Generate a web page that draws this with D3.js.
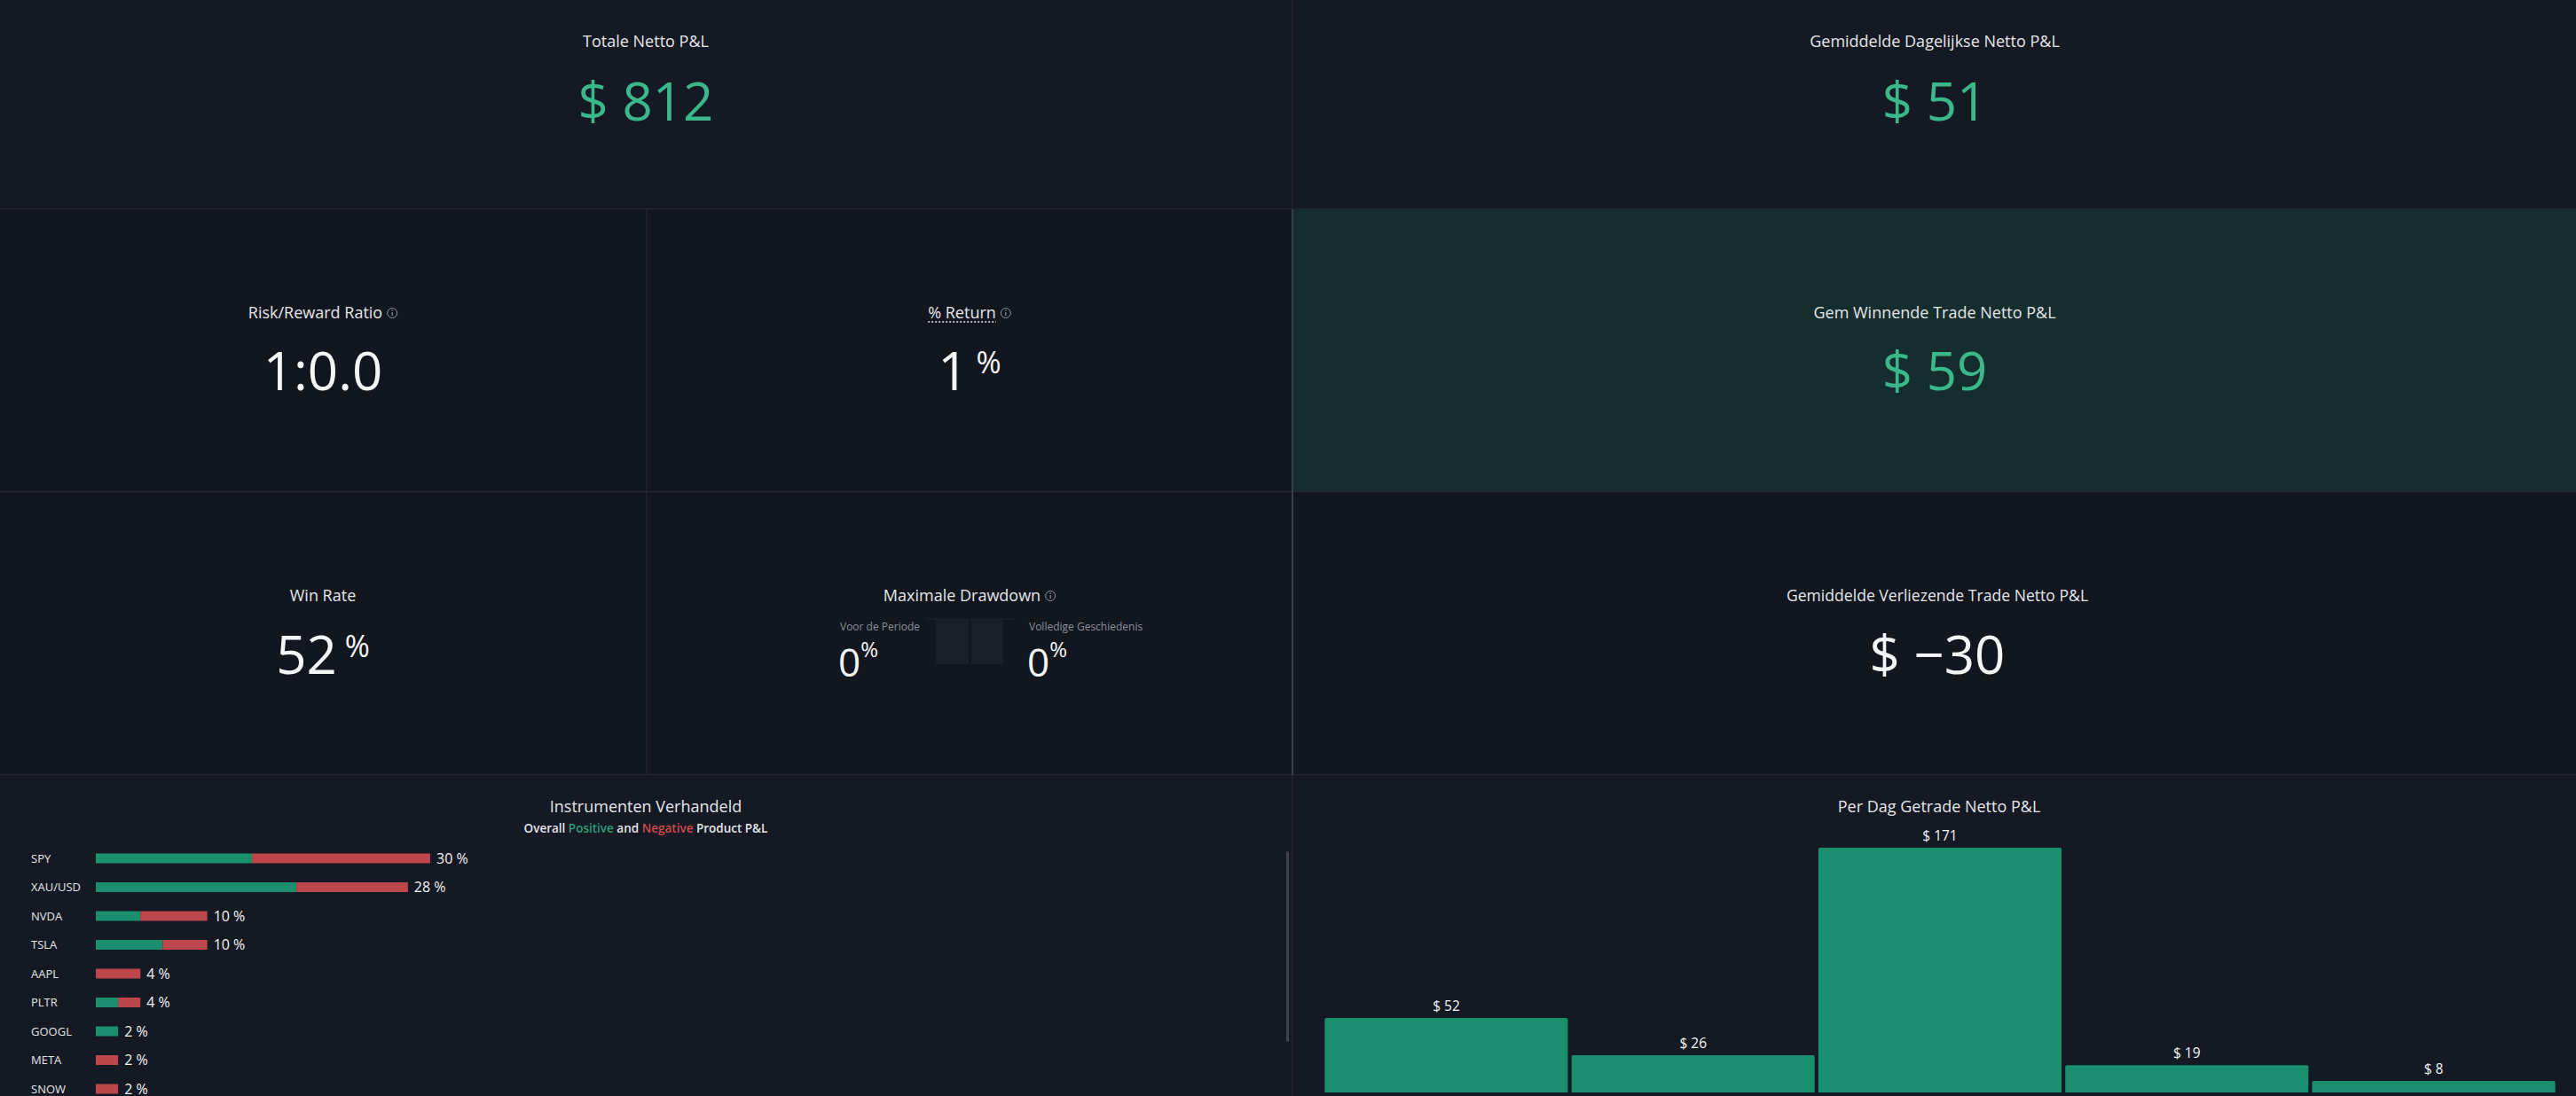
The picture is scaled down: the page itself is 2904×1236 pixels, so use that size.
<!DOCTYPE html>
<html>
<head>
<meta charset="utf-8">
<script src="https://cdn.jsdelivr.net/npm/d3@7"></script>
<style>
  html, body { margin: 0; padding: 0; background: #141822; }
  svg { display: block; font-family: "Open Sans", "Noto Sans", sans-serif; }
</style>
</head>
<body>
<svg id="chart" width="2904" height="1236"></svg>
<script>
// ---------------- data ----------------
const kpiTitles = ["Totale Netto P&L", "Gemiddelde Dagelijkse Netto P&L", "Risk/Reward Ratio", "% Return",
  "Gem Winnende Trade Netto P&L", "Win Rate", "Maximale Drawdown", "Gemiddelde Verliezende Trade Netto P&L"];
const kpiValues = ["$ 812", "$ 51", "1:0.0", "1", "$ 59", "52", "0", "$ \u221230"];
const drawdownLabels = ["Voor de Periode", "Volledige Geschiedenis"];
const drawdownValues = [0, 0];

const instruments = ["SPY", "XAU/USD", "NVDA", "TSLA", "AAPL", "PLTR", "GOOGL", "META", "SNOW"];
const positivePct = [14, 18, 4, 6, 0, 2, 2, 0, 0];
const negativePct = [16, 10, 6, 4, 4, 2, 0, 2, 2];

const dayIndex = [1, 2, 3, 4, 5];
const dayPnl = [52, 26, 171, 19, 8];

// ---------------- style ----------------
const C = {
  bgTop: "#151923", bgMid: "#12161f", bgGreen: "#152d2c", border: "#232630", divider: "#3a3e49",
  title: "#e4e6ea", value: "#f4f5f7", green: "#3bb88b", barGreen: "#1a8f6e", barRed: "#bb464b",
  muted: "#8b909a"
};

const svg = d3.select("#chart");
const W = 2904, H = 1236;

// panels
const panels = [
  {x: 0, y: 0, w: 1457, h: 236, fill: C.bgTop},
  {x: 1457, y: 0, w: 1447, h: 236, fill: C.bgTop},
  {x: 0, y: 236, w: 729, h: 319, fill: C.bgMid},
  {x: 729, y: 236, w: 728, h: 319, fill: C.bgMid},
  {x: 1457, y: 236, w: 1447, h: 319, fill: C.bgGreen},
  {x: 0, y: 555, w: 729, h: 319, fill: C.bgMid},
  {x: 729, y: 555, w: 728, h: 319, fill: C.bgMid},
  {x: 1457, y: 555, w: 1447, h: 319, fill: C.bgMid},
  {x: 0, y: 874, w: 1457, h: 362, fill: C.bgTop},
  {x: 1457, y: 874, w: 1447, h: 362, fill: C.bgTop}
];
svg.selectAll("rect.panel").data(panels).join("rect").attr("class", "panel")
  .attr("x", d => d.x).attr("y", d => d.y).attr("width", d => d.w).attr("height", d => d.h)
  .attr("fill", d => d.fill);

// borders
const lines = [
  [0, 235.5, W, 235.5, C.border, 1.5],
  [0, 554.5, W, 554.5, C.border, 1.5],
  [0, 873.5, W, 873.5, C.border, 1.5],
  [1457, 0, 1457, 236, C.border, 1.5],
  [729, 236, 729, 874, C.border, 1.5],
  [1457, 236, 1457, 874, C.divider, 2],
  [1457, 874, 1457, H, C.border, 1.5]
];
svg.selectAll("line.border").data(lines).join("line").attr("class", "border")
  .attr("x1", d => d[0]).attr("y1", d => d[1]).attr("x2", d => d[2]).attr("y2", d => d[3])
  .attr("stroke", d => d[4]).attr("stroke-width", d => d[5]);

function infoIcon(x, y) {
  const g = svg.append("g").attr("transform", `translate(${x},${y})`);
  g.append("circle").attr("r", 5.5).attr("fill", "none").attr("stroke", C.muted).attr("stroke-width", 1);
  g.append("line").attr("x1", 0).attr("x2", 0).attr("y1", -1).attr("y2", 3).attr("stroke", C.muted).attr("stroke-width", 1.2);
  g.append("circle").attr("cy", -3).attr("r", 0.8).attr("fill", C.muted);
}

function title(text, cx, y, opts = {}) {
  const t = svg.append("text").attr("x", cx).attr("y", y).attr("text-anchor", "middle")
    .attr("fill", C.title).attr("font-size", 18).text(text);
  if (opts.icon || opts.underline) {
    const w = t.node().getComputedTextLength();
    const total = w + (opts.icon ? 17 : 0);
    const start = cx - total / 2;
    t.attr("text-anchor", "start").attr("x", start);
    if (opts.underline) {
      svg.append("line").attr("x1", start).attr("x2", start + w).attr("y1", y + 4).attr("y2", y + 4)
        .attr("stroke", "#e8e8e8").attr("stroke-width", 1.5).attr("stroke-dasharray", "2,2");
    }
    if (opts.icon) infoIcon(start + w + 11, y - 6);
  }
  return t;
}

function value(text, cx, y, color, suffix) {
  const t = svg.append("text").attr("x", cx).attr("y", y).attr("text-anchor", "middle")
    .attr("fill", color).attr("font-size", 60).attr("font-weight", 400);
  t.append("tspan").text(text);
  if (suffix) t.append("tspan").attr("font-size", 34).attr("dy", -19).text(" " + suffix);
  return t;
}

// row 1
title(kpiTitles[0], 728, 53);
value(kpiValues[0], 728, 136, C.green);
title(kpiTitles[1], 2181, 53);
value(kpiValues[1], 2181, 136, C.green);
// row 2
title(kpiTitles[2], 364, 359, {icon: true});
value(kpiValues[2], 364, 440, C.value);
title(kpiTitles[3], 1093, 359, {icon: true, underline: true});
value(kpiValues[3], 1093, 440, C.value, "%");
title(kpiTitles[4], 2181, 359);
value(kpiValues[4], 2181, 440, C.green);
// row 3
title(kpiTitles[5], 364, 678);
value(kpiValues[5], 364, 760, C.value, "%");
title(kpiTitles[6], 1093, 678, {icon: true});
title(kpiTitles[7], 2184, 678).attr("font-size", 17.6);
value(kpiValues[7], 2184, 760, C.value);

// drawdown block
const ddX = [947, 1160];
drawdownLabels.forEach((lab, i) => {
  svg.append("text").attr("x", ddX[i]).attr("y", 711).attr("fill", C.muted).attr("font-size", 12).text(lab);
  const t = svg.append("text").attr("x", ddX[i] - 2).attr("y", 763).attr("fill", C.value).attr("font-size", 44);
  t.append("tspan").text(drawdownValues[i]);
  t.append("tspan").attr("font-size", 24).attr("dy", -22).text("%");
});
svg.append("line").attr("x1", 1044).attr("x2", 1142).attr("y1", 698).attr("y2", 698).attr("stroke", "#1e222c");
[[1055, 37], [1095, 36]].forEach(d => {
  svg.append("rect").attr("x", d[0]).attr("y", 698).attr("width", d[1]).attr("height", 51).attr("fill", "#1b1f29");
});

// ---------------- instrument chart ----------------
svg.append("text").attr("x", 728).attr("y", 916).attr("text-anchor", "middle").attr("fill", C.title)
  .attr("font-size", 18).text("Instrumenten Verhandeld");
const sub = svg.append("text").attr("x", 728).attr("y", 939).attr("text-anchor", "middle")
  .attr("font-size", 13.5).attr("font-weight", 600).attr("fill", C.title);
sub.append("tspan").text("Overall ");
sub.append("tspan").attr("fill", "#2a9e78").text("Positive");
sub.append("tspan").text(" and ");
sub.append("tspan").attr("fill", "#cf4a4c").text("Negative");
sub.append("tspan").text(" Product P&L");

const yI = d3.scaleBand().domain(instruments).range([951.75, 951.75 + 32.5 * instruments.length]).padding(0);
const xI = d3.scaleLinear().domain([0, 30]).range([108, 485]);
const barH = 11;
const instData = instruments.map((name, i) => ({name, pos: positivePct[i], neg: negativePct[i], total: positivePct[i] + negativePct[i]}));
const gI = svg.append("g");
gI.selectAll("text.ilab").data(instData).join("text").attr("class", "ilab")
  .attr("x", 35).attr("y", d => yI(d.name) + yI.bandwidth() / 2).attr("dy", "0.35em")
  .attr("fill", C.title).attr("font-size", 13).text(d => d.name);
gI.selectAll("rect.pos").data(instData.filter(d => d.pos > 0)).join("rect").attr("class", "pos")
  .attr("x", xI(0)).attr("y", d => yI(d.name) + yI.bandwidth() / 2 - barH / 2)
  .attr("width", d => xI(d.pos) - xI(0)).attr("height", barH).attr("fill", C.barGreen);
gI.selectAll("rect.neg").data(instData.filter(d => d.neg > 0)).join("rect").attr("class", "neg")
  .attr("x", d => xI(d.pos)).attr("y", d => yI(d.name) + yI.bandwidth() / 2 - barH / 2)
  .attr("width", d => xI(d.total) - xI(d.pos)).attr("height", barH).attr("fill", C.barRed);
gI.selectAll("text.ival").data(instData).join("text").attr("class", "ival")
  .attr("x", d => xI(d.total) + 7).attr("y", d => yI(d.name) + yI.bandwidth() / 2).attr("dy", "0.36em")
  .attr("fill", C.value).attr("font-size", 16).text(d => d.total + " %");

// scrollbar
svg.append("rect").attr("x", 1450).attr("y", 960).attr("width", 3).attr("height", 215).attr("rx", 1.5).attr("fill", "#3d414b");

// ---------------- per day chart ----------------
svg.append("text").attr("x", 2186).attr("y", 916).attr("text-anchor", "middle").attr("fill", C.title)
  .attr("font-size", 18).text("Per Dag Getrade Netto P&L");
const xD = d3.scaleBand().domain(dayIndex).range([1492, 2882]).paddingInner(0.015).paddingOuter(0.005);
const yD = d3.scaleLinear().domain([0, 171]).range([1232, 956]);
const dayData = dayIndex.map((d, i) => ({d, v: dayPnl[i]}));
svg.selectAll("path.dbar").data(dayData).join("path").attr("class", "dbar")
  .attr("fill", C.barGreen)
  .attr("d", d => {
    const x0 = xD(d.d), x1 = x0 + xD.bandwidth(), y0 = yD(d.v), y1 = yD(0), r = 2;
    return `M${x0},${y1}V${y0 + r}Q${x0},${y0} ${x0 + r},${y0}H${x1 - r}Q${x1},${y0} ${x1},${y0 + r}V${y1}Z`;
  });
svg.selectAll("text.dval").data(dayData).join("text").attr("class", "dval")
  .attr("x", d => xD(d.d) + xD.bandwidth() / 2).attr("y", d => yD(d.v) - 8)
  .attr("text-anchor", "middle").attr("fill", C.value).attr("font-size", 15.5).text(d => "$ " + d.v);
</script>
</body>
</html>
